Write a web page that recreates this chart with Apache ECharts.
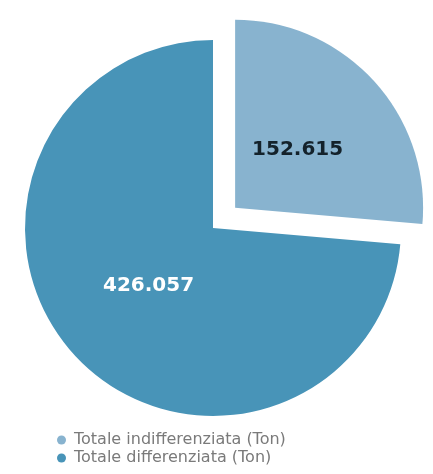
<!DOCTYPE html>
<html>
<head>
<meta charset="utf-8">
<script src="https://cdn.jsdelivr.net/npm/echarts@6/dist/echarts.min.js"></script>
<style>
  html, body { margin: 0; padding: 0; background: #ffffff; }
  #chart { width: 433px; height: 474px; }
</style>
</head>
<body>
<div id="chart"></div>
<script>
// Waste totals, in tonnes
const categories = ['Totale indifferenziata (Ton)', 'Totale differenziata (Ton)'];
const values = [152.615, 426.057];
const sliceColors = ['#88b3cf', '#4894b8'];
const labelColors = ['#14222b', '#ffffff'];
// nudge each value label a little toward the pie centre
const labelOffsets = [[-9, 8], [7, -8]];

const fmt = v => v.toFixed(3);

const chart = echarts.init(document.getElementById('chart'), null, { renderer: 'canvas' });

chart.setOption({
  animation: false,
  legend: {
    orient: 'vertical',
    left: 52,
    top: 427,
    icon: 'circle',
    itemWidth: 9,
    itemHeight: 9,
    itemGap: 2,
    textStyle: { color: '#7a7a7a', fontSize: 16, fontFamily: 'DejaVu Sans', padding: [0, 0, 0, 3] },
    data: categories
  },
  series: [{
    type: 'pie',
    center: [213, 228],
    radius: 188,
    startAngle: 90,
    clockwise: true,
    selectedMode: 'single',
    selectedOffset: 30,
    avoidLabelOverlap: false,
    label: {
      show: true,
      position: 'inside',
      fontSize: 20,
      fontWeight: 'bold',
      fontFamily: 'DejaVu Sans',
      formatter: p => fmt(p.value)
    },
    labelLine: { show: false },
    emphasis: { disabled: true },
    data: categories.map((name, i) => ({
      name,
      value: values[i],
      selected: i === 0,
      itemStyle: { color: sliceColors[i] },
      label: { color: labelColors[i], offset: labelOffsets[i] },
      select: { label: { color: labelColors[i], offset: labelOffsets[i] } }
    }))
  }]
});
</script>
</body>
</html>
